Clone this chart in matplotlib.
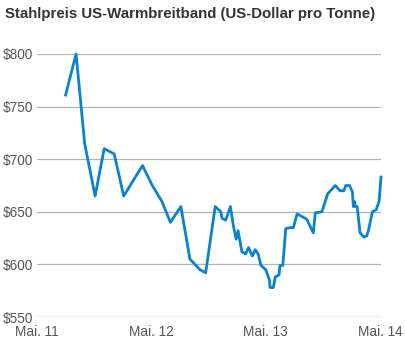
import matplotlib
matplotlib.use("Agg")
import matplotlib.pyplot as plt

# months since May 2011
months = [3.0, 4.1, 5.0, 6.1, 7.05, 8.1, 9.1, 11.07, 12.1, 13.1, 14.0, 15.1, 16.05, 17.1, 17.7,
          18.7, 19.3, 19.4, 19.8, 20.3, 20.6, 20.9, 21.1, 21.5, 21.9, 22.2, 22.6, 22.9, 23.2,
          23.5, 24.0, 24.4, 24.45, 24.8, 25.0, 25.4, 25.5, 25.8, 26.1, 26.6, 26.9, 27.3, 28.3,
          29.0, 29.2, 29.9, 30.5, 31.3, 31.8, 32.2, 32.4, 32.8, 33.1, 33.2, 33.3, 33.4, 33.6,
          33.9, 34.3, 34.6, 34.8, 35.2, 35.6, 35.9, 36.1]
prices = [761, 800, 715, 665, 710, 705, 665, 694, 675, 660, 640, 655, 605, 595, 592,
          655, 650, 644, 642, 655, 637, 624, 632, 612, 610, 616, 608, 614, 610,
          599, 595, 585, 578, 578, 588, 590, 599, 599, 634, 635, 635, 648, 643,
          630, 649, 650, 667, 675, 670, 670, 675, 675, 669, 655, 660, 655, 655,
          630, 626, 627, 633, 650, 652, 660, 683]

tick_pos = [0, 12, 24, 36]
tick_labels = ["Mai. 11", "Mai. 12", "Mai. 13", "Mai. 14"]
y_ticks = [550, 600, 650, 700, 750, 800]
y_labels = ["$550", "$600", "$650", "$700", "$750", "$800"]
title = "Stahlpreis US-Warmbreitband (US-Dollar pro Tonne)"

plt.rcParams['font.family'] = ['Liberation Sans', 'DejaVu Sans']

fig = plt.figure(figsize=(4.06, 3.40), dpi=100)
ax = fig.add_axes([37/406, 1-317/340, (381-37)/406, (317-54)/340])

for y in y_ticks[1:]:
    ax.axhline(y, color="#b4b4b4", lw=0.9, zorder=1)
ax.axhline(550, color="#999999", lw=1.0, zorder=1)

ax.plot(months, prices, color="#0a82d2", lw=2.0, zorder=3, clip_on=False, solid_joinstyle="round")

ax.set_xlim(0.1, 36.1)
ax.set_ylim(550, 800)
ax.set_yticks(y_ticks)
ax.set_yticklabels(y_labels)
ax.set_xticks(tick_pos)
ax.set_xticklabels(tick_labels)
ax.tick_params(axis="both", length=0, labelsize=9.8, colors="#555555")
ax.tick_params(axis="y", pad=3)
ax.tick_params(axis="x", pad=5.5)
for s in ax.spines.values():
    s.set_visible(False)

fig.text(5/406, 1-14/340, title, fontsize=10.8, fontweight="bold", color="#333333",
         va="center", ha="left")

fig.savefig("out.png", dpi=100)
